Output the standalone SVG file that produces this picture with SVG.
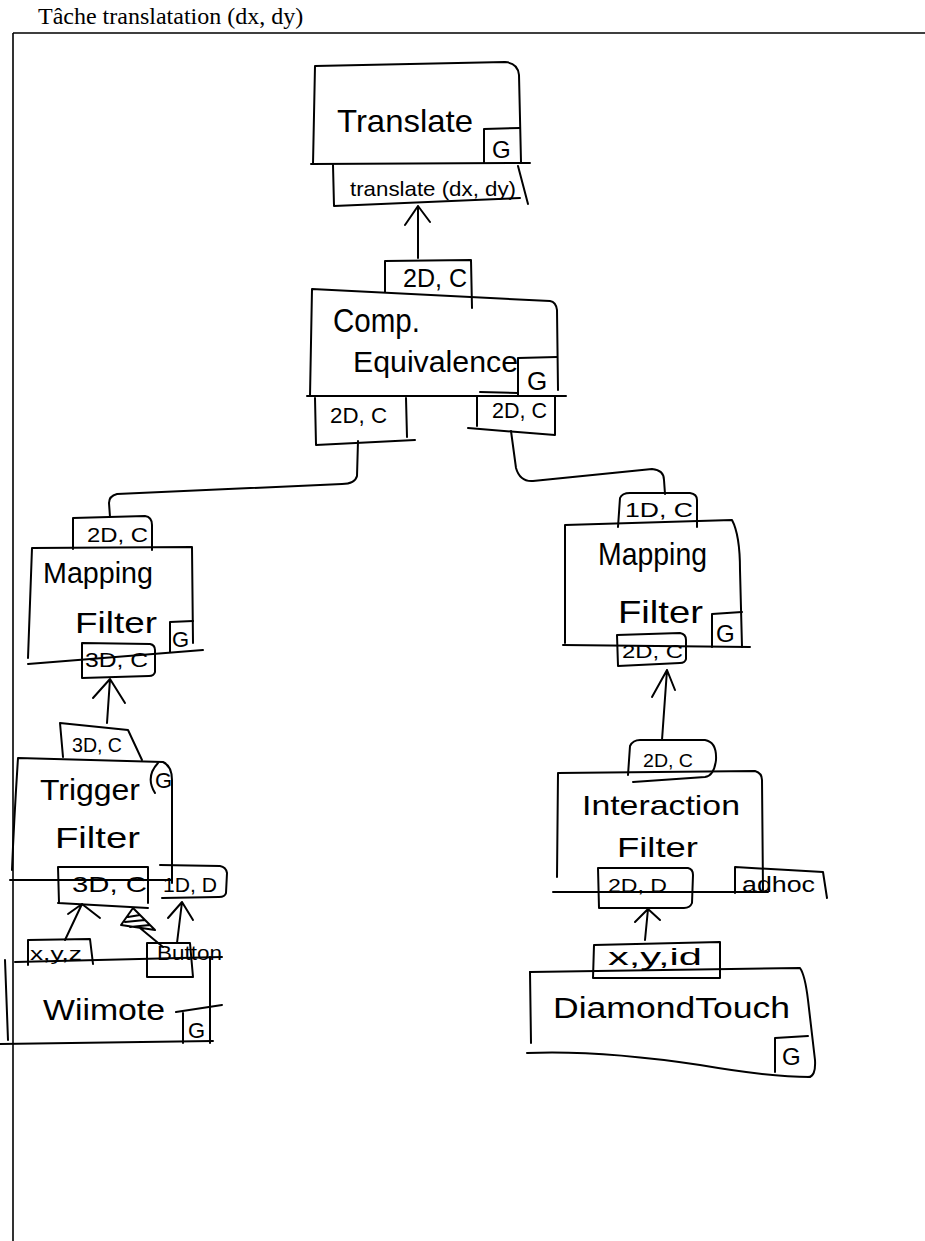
<svg xmlns="http://www.w3.org/2000/svg" width="925" height="1241" viewBox="0 0 925 1241">
<style>
.ln{fill:none;stroke:#000;stroke-width:2;stroke-linecap:round;stroke-linejoin:round}
.fr{fill:none;stroke:#000;stroke-width:1.6}
.hw{font-family:"Liberation Sans",Arial,sans-serif;fill:#000}
.ttl{font-family:"Liberation Serif","Times New Roman",serif;font-size:24px;fill:#000}
</style>
<rect width="925" height="1241" fill="#fff"/>
<text class="ttl" x="38" y="24">Tâche translatation (dx, dy)</text>
<path class="fr" d="M13,33 L925,33 M13,33 L13,1241"/>

<g id="n-translate">
<path class="ln" d="M313,164 L315,66 L505,62 Q518,63 519,75 L521,162"/>
<path class="ln" d="M311,164 L530,163"/>
<path class="ln" d="M484,163 L484,129 L520,128"/>
<text class="hw" x="337" y="132" font-size="32" textLength="136" lengthAdjust="spacingAndGlyphs">Translate</text>
<text class="hw" x="492" y="158" font-size="24">G</text>
<path class="ln" d="M333,165 L334,206 L520,198 M518,166 L523,185 L528,204"/>
<text class="hw" x="350" y="196" font-size="21" textLength="166" lengthAdjust="spacingAndGlyphs">translate (dx, dy)</text>
</g>

<g id="n-comp">
<path class="ln" d="M385,292 L385,261 L471,260 L472,308"/>
<text class="hw" x="403" y="287" font-size="25" textLength="64" lengthAdjust="spacingAndGlyphs">2D, C</text>
<path class="ln" d="M310,396 L312,289 L550,301 Q556,302 557,310 L558,390"/>
<path class="ln" d="M307,396 L566,396"/>
<path class="ln" d="M518,396 L518,358 L557,357"/>
<text class="hw" x="527" y="390" font-size="26">G</text>
<text class="hw" x="333" y="332" font-size="34" textLength="87" lengthAdjust="spacingAndGlyphs">Comp.</text>
<text class="hw" x="353" y="372" font-size="30" textLength="165" lengthAdjust="spacingAndGlyphs">Equivalence</text>
<path class="ln" d="M315,398 L316,445 L415,440 M406,398 L407,437"/>
<text class="hw" x="330" y="423" font-size="22" textLength="57" lengthAdjust="spacingAndGlyphs">2D, C</text>
<path class="ln" d="M480,392 L518,393 M477,396 L477,426 M468,428 L555,435 M555,396 L555,435"/>
<text class="hw" x="492" y="418" font-size="22" textLength="55" lengthAdjust="spacingAndGlyphs">2D, C</text>
</g>

<g id="n-mapping-left">
<path class="ln" d="M73,549 L73,518 L145,516 Q152,517 152,525 L152,550"/>
<text class="hw" x="87" y="542" font-size="21" textLength="61" lengthAdjust="spacingAndGlyphs">2D, C</text>
<path class="ln" d="M28,658 L32,548 L192,547 L193,643"/>
<path class="ln" d="M28,664 L203,650"/>
<path class="ln" d="M170,652 L170,622 L193,621"/>
<text class="hw" x="172" y="647" font-size="22">G</text>
<text class="hw" x="43" y="583" font-size="30" textLength="110" lengthAdjust="spacingAndGlyphs">Mapping</text>
<text class="hw" x="75" y="633" font-size="30" textLength="82" lengthAdjust="spacingAndGlyphs">Filter</text>
<path class="ln" d="M82,643 L150,644 Q155,645 155,650 L155,672 Q154,676 149,676 L82,678 Z"/>
<text class="hw" x="85" y="667" font-size="21" textLength="63" lengthAdjust="spacingAndGlyphs">3D, C</text>
</g>

<g id="n-trigger">
<path class="ln" d="M63,757 L60,723 L128,730 L142,760"/>
<text class="hw" x="72" y="752" font-size="20" textLength="50" lengthAdjust="spacingAndGlyphs">3D, C</text>
<path class="ln" d="M12,870 Q14,820 18,758 L163,762 Q172,766 172,780 L172,883"/>
<path class="ln" d="M10,880 L172,880"/>
<path class="ln" d="M158,763 Q145,777 155,793"/>
<text class="hw" x="155" y="788" font-size="22">G</text>
<text class="hw" x="40" y="800" font-size="29" textLength="100" lengthAdjust="spacingAndGlyphs">Trigger</text>
<text class="hw" x="55" y="848" font-size="29" textLength="85" lengthAdjust="spacingAndGlyphs">Filter</text>
<path class="ln" d="M58,867 L148,867 L148,903 M58,867 L59,903 M58,903 L148,908"/>
<text class="hw" x="72" y="892" font-size="22" textLength="75" lengthAdjust="spacingAndGlyphs">3D, C</text>
<path class="ln" d="M160,865 L220,866 Q226,867 227,873 L226,893 Q225,897 219,897 L162,898"/>
<text class="hw" x="163" y="892" font-size="20" textLength="54" lengthAdjust="spacingAndGlyphs">1D, D</text>
</g>

<g id="n-wiimote">
<path class="ln" d="M28,965 L28,940 L90,939 L93,964"/>
<text class="hw" x="30" y="960" font-size="18" textLength="52" lengthAdjust="spacingAndGlyphs">x,y,z</text>
<path class="ln" d="M147,977 L147,943 L190,943 L193,977 L147,977"/>
<text class="hw" x="157" y="960" font-size="20" textLength="65" lengthAdjust="spacingAndGlyphs">Button</text>
<path class="ln" d="M15,962 L222,957"/>
<path class="ln" d="M210,957 L210,1043"/>
<path class="ln" d="M5,960 L8,1040"/>
<path class="ln" d="M0,1044 L213,1041"/>
<path class="ln" d="M183,1043 L183,1013 M176,1012 L222,1005"/>
<text class="hw" x="188" y="1038" font-size="22">G</text>
<text class="hw" x="43" y="1020" font-size="30" textLength="122" lengthAdjust="spacingAndGlyphs">Wiimote</text>
</g>

<g id="n-mapping-right">
<path class="ln" d="M618,527 L620,498 Q622,493 630,493 L690,493 Q697,494 697,500 L697,527"/>
<text class="hw" x="625" y="517" font-size="21" textLength="68" lengthAdjust="spacingAndGlyphs">1D, C</text>
<path class="ln" d="M565,643 L565,525 L732,520 Q740,535 740,570 L742,647"/>
<path class="ln" d="M563,645 L750,647"/>
<path class="ln" d="M712,647 L712,614 L742,612"/>
<text class="hw" x="716" y="642" font-size="24">G</text>
<text class="hw" x="598" y="565" font-size="32" textLength="109" lengthAdjust="spacingAndGlyphs">Mapping</text>
<text class="hw" x="618" y="623" font-size="32" textLength="85" lengthAdjust="spacingAndGlyphs">Filter</text>
<path class="ln" d="M617,635 L680,633 Q686,634 686,640 L686,659 Q685,663 680,663 L618,666 Z"/>
<text class="hw" x="622" y="658" font-size="19" textLength="61" lengthAdjust="spacingAndGlyphs">2D, C</text>
</g>

<g id="n-interaction">
<path class="ln" d="M628,775 L630,746 Q633,740 640,740 L705,740 Q717,742 716,760 Q714,776 705,777 L633,782"/>
<text class="hw" x="643" y="767" font-size="19" textLength="50" lengthAdjust="spacingAndGlyphs">2D, C</text>
<path class="ln" d="M557,877 L558,773 L755,771 Q762,773 762,780 L763,890"/>
<text class="hw" x="582" y="815" font-size="28" textLength="158" lengthAdjust="spacingAndGlyphs">Interaction</text>
<text class="hw" x="617" y="857" font-size="28" textLength="81" lengthAdjust="spacingAndGlyphs">Filter</text>
<path class="ln" d="M553,892 L768,892"/>
<path class="ln" d="M598,868 L688,868 Q693,869 693,875 L692,903 Q690,908 684,908 L599,908 Z"/>
<text class="hw" x="608" y="892" font-size="19" textLength="59" lengthAdjust="spacingAndGlyphs">2D, D</text>
<path class="ln" d="M735,893 L735,867 L823,872 L827,898"/>
<text class="hw" x="742" y="892" font-size="22" textLength="73" lengthAdjust="spacingAndGlyphs">adhoc</text>
</g>

<g id="n-diamondtouch">
<path class="ln" d="M593,978 L594,945 L720,942 L720,978 L593,978"/>
<text class="hw" x="608" y="965" font-size="24" textLength="94" lengthAdjust="spacingAndGlyphs">x,y,id</text>
<path class="ln" d="M530,972 L800,968 Q805,975 808,1000 L815,1060 Q816,1077 808,1077"/>
<path class="ln" d="M530,972 L531,1043"/>
<path class="ln" d="M527,1053 Q600,1050 700,1065 Q770,1077 810,1077"/>
<path class="ln" d="M775,1072 L775,1038 L808,1036"/>
<text class="hw" x="782" y="1065" font-size="24">G</text>
<text class="hw" x="553" y="1018" font-size="30" textLength="237" lengthAdjust="spacingAndGlyphs">DiamondTouch</text>
</g>

<g id="connectors">
<path class="ln" d="M418,258 L418,206 M405,225 L418,206 L430,222"/>
<path class="ln" d="M358,441 L357,476 Q355,484 342,484 L117,494 Q109,496 109,503 L110,517"/>
<path class="ln" d="M511,431 L516,468 Q520,482 533,481 L652,469 Q664,470 664,480 L665,494"/>
<path class="ln" d="M107,723 L110,679 M93,698 L110,679 L125,703"/>
<path class="ln" d="M65,940 L82,904 M68,914 L82,904 L100,918"/>
<path class="ln" d="M133,908 L121,925 L155,930 Z M128,917 L140,915 M125,922 L145,920 M130,927 L150,925 M140,928 L163,947"/>
<path class="ln" d="M177,943 L182,902 M168,918 L182,902 L193,920"/>
<path class="ln" d="M662,740 L667,670 M652,697 L667,670 L675,690"/>
<path class="ln" d="M645,940 L648,909 M635,922 L648,909 L660,920"/>
</g>
</svg>
